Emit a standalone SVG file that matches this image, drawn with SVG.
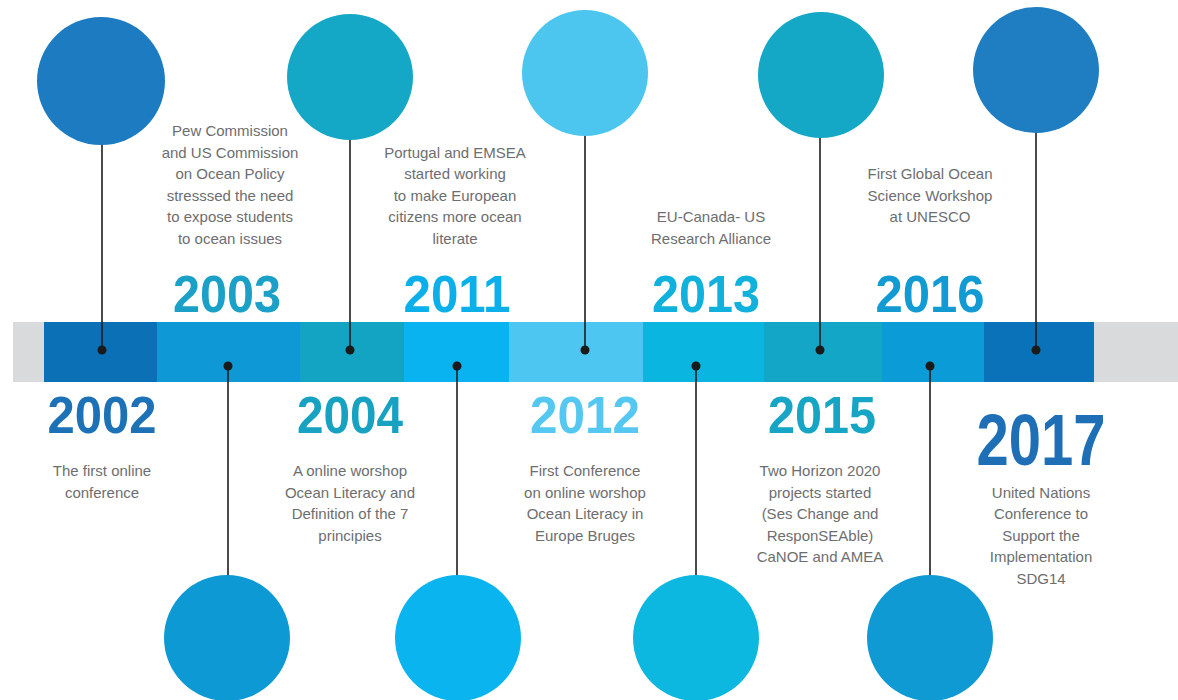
<svg xmlns="http://www.w3.org/2000/svg" width="1178" height="700" viewBox="0 0 1178 700">
<style>
.yr{font-family:"Liberation Sans",Arial,sans-serif;font-weight:bold;font-size:52px;text-anchor:middle}
.big{font-size:72px}
.tx{font-family:"Liberation Sans",Arial,sans-serif;font-size:15px;fill:#6d6e70;text-anchor:middle}
.ln{stroke:#1e1e1e;stroke-width:1.6;fill:none}
.dot{fill:#1a1a1a}
</style>
<rect width="1178" height="700" fill="#ffffff"/>
<g id="timeline-bar">
<rect x="13" y="322" width="1165" height="60" fill="#d9dadc"/>
<rect x="44" y="322" width="113" height="60" fill="#0b70b6"/>
<rect x="157" y="322" width="143" height="60" fill="#0e99d6"/>
<rect x="300" y="322" width="104" height="60" fill="#13a4c4"/>
<rect x="404" y="322" width="105" height="60" fill="#08b3ef"/>
<rect x="509" y="322" width="134" height="60" fill="#4dc7f1"/>
<rect x="643" y="322" width="121" height="60" fill="#0ab5df"/>
<rect x="764" y="322" width="118" height="60" fill="#13a6c6"/>
<rect x="882" y="322" width="102" height="60" fill="#0b9bd7"/>
<rect x="984" y="322" width="110" height="60" fill="#0a72b9"/>
</g>
<g id="connectors">
<line class="ln" x1="102" y1="144" x2="102" y2="350"/>
<line class="ln" x1="350" y1="140" x2="350" y2="350"/>
<line class="ln" x1="585" y1="136" x2="585" y2="350"/>
<line class="ln" x1="820" y1="138" x2="820" y2="350"/>
<line class="ln" x1="1036" y1="133" x2="1036" y2="350"/>
<line class="ln" x1="228" y1="366" x2="228" y2="576"/>
<line class="ln" x1="457" y1="366" x2="457" y2="576"/>
<line class="ln" x1="696" y1="366" x2="696" y2="576"/>
<line class="ln" x1="930" y1="366" x2="930" y2="576"/>
<circle class="dot" cx="102" cy="350" r="4.5"/>
<circle class="dot" cx="350" cy="350" r="4.5"/>
<circle class="dot" cx="585" cy="350" r="4.5"/>
<circle class="dot" cx="820" cy="350" r="4.5"/>
<circle class="dot" cx="1036" cy="350" r="4.5"/>
<circle class="dot" cx="228" cy="366" r="4.5"/>
<circle class="dot" cx="457" cy="366" r="4.5"/>
<circle class="dot" cx="696" cy="366" r="4.5"/>
<circle class="dot" cx="930" cy="366" r="4.5"/>
</g>
<g id="n2002">
<circle cx="101" cy="81" r="64" fill="#1c7bc1"/>
<text class="yr" x="102" y="433" fill="#1d72b7" textLength="109" lengthAdjust="spacingAndGlyphs">2002</text>
<text class="tx" x="102" y="476">The first online</text>
<text class="tx" x="102" y="497.5">conference</text>
</g>
<g id="n2003">
<circle cx="227" cy="638" r="63" fill="#0d99d4"/>
<text class="yr" x="227" y="312" fill="#1ba1c8" textLength="108" lengthAdjust="spacingAndGlyphs">2003</text>
<text class="tx" x="230" y="136">Pew Commission</text>
<text class="tx" x="230" y="157.5">and US Commission</text>
<text class="tx" x="230" y="179">on Ocean Policy</text>
<text class="tx" x="230" y="200.5">stresssed the need</text>
<text class="tx" x="230" y="222">to expose students</text>
<text class="tx" x="230" y="243.5">to ocean issues</text>
</g>
<g id="n2004">
<circle cx="350" cy="77" r="63" fill="#14a8c6"/>
<text class="yr" x="350" y="433" fill="#17a2c2" textLength="106" lengthAdjust="spacingAndGlyphs">2004</text>
<text class="tx" x="350" y="476">A online worshop</text>
<text class="tx" x="350" y="497.5">Ocean Literacy  and</text>
<text class="tx" x="350" y="519">Definition of the 7</text>
<text class="tx" x="350" y="540.5">principies</text>
</g>
<g id="n2011">
<circle cx="458" cy="638" r="63" fill="#0ab4ef"/>
<text class="yr" x="457" y="312" fill="#0bb0ea" textLength="107" lengthAdjust="spacingAndGlyphs">2011</text>
<text class="tx" x="455" y="157.5">Portugal and EMSEA</text>
<text class="tx" x="455" y="179">started working</text>
<text class="tx" x="455" y="200.5">to make European</text>
<text class="tx" x="455" y="222">citizens more ocean</text>
<text class="tx" x="455" y="243.5">literate</text>
</g>
<g id="n2012">
<circle cx="585" cy="73" r="63" fill="#4cc6ef"/>
<text class="yr" x="585" y="433" fill="#54c8f0" textLength="110" lengthAdjust="spacingAndGlyphs">2012</text>
<text class="tx" x="585" y="476">First Conference</text>
<text class="tx" x="585" y="497.5">on online worshop</text>
<text class="tx" x="585" y="519">Ocean Literacy in</text>
<text class="tx" x="585" y="540.5">Europe Bruges</text>
</g>
<g id="n2013">
<circle cx="696" cy="638" r="63" fill="#0cb8df"/>
<text class="yr" x="706" y="312" fill="#10b2dd" textLength="108" lengthAdjust="spacingAndGlyphs">2013</text>
<text class="tx" x="711" y="222">EU-Canada- US</text>
<text class="tx" x="711" y="243.5">Research Alliance</text>
</g>
<g id="n2015">
<circle cx="821" cy="75" r="63" fill="#14a8c6"/>
<text class="yr" x="822" y="433" fill="#16a5c5" textLength="108" lengthAdjust="spacingAndGlyphs">2015</text>
<text class="tx" x="820" y="476">Two Horizon 2020</text>
<text class="tx" x="820" y="497.5">projects started</text>
<text class="tx" x="820" y="519">(Ses Change and</text>
<text class="tx" x="820" y="540.5">ResponSEAble)</text>
<text class="tx" x="820" y="562">CaNOE and AMEA</text>
</g>
<g id="n2016">
<circle cx="930" cy="638" r="63" fill="#0f9ad4"/>
<text class="yr" x="930" y="312" fill="#129bd3" textLength="109" lengthAdjust="spacingAndGlyphs">2016</text>
<text class="tx" x="930" y="179">First Global Ocean</text>
<text class="tx" x="930" y="200.5">Science Workshop</text>
<text class="tx" x="930" y="222">at UNESCO</text>
</g>
<g id="n2017">
<circle cx="1036" cy="70" r="63" fill="#1f7dc1"/>
<text class="yr big" x="1041" y="465" fill="#1e6fb5" textLength="129" lengthAdjust="spacingAndGlyphs">2017</text>
<text class="tx" x="1041" y="497.5">United Nations</text>
<text class="tx" x="1041" y="519">Conference to</text>
<text class="tx" x="1041" y="540.5">Support the</text>
<text class="tx" x="1041" y="562">Implementation</text>
<text class="tx" x="1041" y="583.5">SDG14</text>
</g>
</svg>
